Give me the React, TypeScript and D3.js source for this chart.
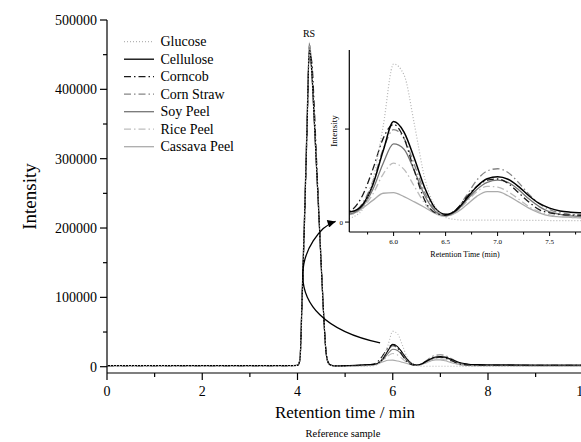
import React from 'react';
import * as d3 from 'd3';

// Retention time grid (min)
const times = [0, 1, 2, 3, 3.9, 4.0, 4.05, 4.1, 4.15, 4.2, 4.25, 4.3, 4.35, 4.4, 4.45, 4.5, 4.55, 4.6, 4.65, 4.7,
  4.8, 5.0, 5.3, 5.5, 5.6, 5.7, 5.8, 5.9, 6.0, 6.1, 6.2, 6.3, 6.4, 6.5, 6.6, 6.7, 6.8, 6.9, 7.0, 7.1,
  7.2, 7.3, 7.4, 7.5, 7.6, 7.7, 7.8, 8.0, 9.0, 10.0];

const glucose = [1500, 1500, 1400, 1300, 1500, 2000, 9000, 108000, 222000, 349000, 462000, 425000, 358000, 286000, 217000, 143000, 74000, 21000, 5500, 2300,
  900, 700, 600, 700, 1500, 4000, 13500, 31000, 51000, 47500, 31500, 14000, 5000, 1500, 800, 600, 600, 600, 600, 600,
  600, 550, 550, 500, 500, 500, 500, 500, 500, 500];
const cellulose = [1800, 1800, 1700, 1700, 1800, 2000, 9000, 106000, 218000, 344000, 458000, 424000, 357000, 286000, 216000, 142000, 73000, 20000, 5000, 2200,
  1200, 1500, 2500, 3200, 3400, 5500, 12000, 23000, 32400, 29000, 20500, 11000, 4500, 2500, 3800, 7500, 11500, 14000, 14600, 13800,
  11500, 8500, 6000, 4500, 3600, 3200, 3000, 2800, 2500, 2500];
const corncob = [1600, 1600, 1500, 1500, 1600, 1800, 8000, 100000, 212000, 338000, 452000, 440000, 380000, 300000, 222000, 146000, 76000, 22000, 6000, 2500,
  1300, 1400, 2200, 3000, 4000, 8500, 17000, 27000, 31500, 27000, 16500, 7000, 3000, 2200, 4000, 8000, 11500, 13500, 13900, 12500,
  9500, 6500, 4000, 3000, 2500, 2300, 2200, 2100, 2000, 2000];
const cornStraw = [1500, 1500, 1500, 1400, 1500, 2000, 9500, 110000, 223000, 350000, 463000, 426000, 358000, 287000, 218000, 144000, 75000, 21000, 5500, 2300,
  1100, 1200, 1800, 2500, 3000, 6000, 13000, 23500, 29800, 27000, 18500, 9500, 3800, 2200, 4000, 8500, 13500, 16500, 17200, 16000,
  12800, 9000, 6000, 4000, 3000, 2500, 2200, 2000, 1800, 1800];
const soyPeel = [1400, 1400, 1400, 1300, 1400, 2200, 10000, 112000, 226000, 353000, 466000, 428000, 360000, 288000, 218000, 144000, 74000, 20000, 5000, 2200,
  1000, 1100, 1700, 2300, 2800, 5000, 10500, 19000, 25200, 23500, 16500, 8500, 3500, 2000, 3500, 7000, 10500, 12800, 13500, 12800,
  10500, 7500, 5000, 3300, 2500, 2000, 1800, 1700, 1600, 1600];
const ricePeel = [1300, 1300, 1300, 1200, 1300, 2300, 10500, 114000, 228000, 356000, 468000, 430000, 362000, 290000, 220000, 145000, 75000, 21000, 5500, 2300,
  1000, 1000, 1500, 2000, 2500, 4500, 9000, 15500, 19000, 17000, 11500, 6000, 2800, 1800, 3200, 6500, 9800, 11500, 11300, 9800,
  7500, 5000, 3300, 2300, 1800, 1500, 1400, 1400, 1300, 1300];
const cassavaPeel = [1200, 1200, 1200, 1200, 1300, 2200, 10000, 111000, 225000, 352000, 465000, 427000, 359000, 287000, 218000, 144000, 74000, 20000, 5000, 2200,
  1000, 1000, 1500, 2100, 2600, 4500, 7000, 9300, 9500, 8200, 6500, 4700, 2800, 2000, 3000, 5500, 8300, 9800, 9800, 8500,
  6500, 4500, 3000, 2000, 1700, 1500, 1400, 1300, 1300, 1300];

const seriesNames = ['Glucose', 'Cellulose', 'Corncob', 'Corn Straw', 'Soy Peel', 'Rice Peel', 'Cassava Peel'];
const seriesValues = [glucose, cellulose, corncob, cornStraw, soyPeel, ricePeel, cassavaPeel];

const xTicks = [0, 2, 4, 6, 8, 10];
const xMinorTicks = [1, 3, 5, 7, 9];
const yTicks = [0, 100000, 200000, 300000, 400000, 500000];
const yMinorTicks = [50000, 150000, 250000, 350000, 450000];
const insetXTicks = [6.0, 6.5, 7.0, 7.5];
const insetXMinorTicks = [5.75, 6.25, 6.75, 7.25, 7.75];
const insetYTicks = [0, 30000];

// annotation arrow (time, intensity) in main axes units: tail, ctrl1, ctrl2, tip
const arrowPoints = [[5.735, 34200], [3.3, 70000], [4.15, 196000], [4.8, 209500]];

const styles: Record<string, { color: string; dash: string; width: number }> = {
  'Glucose': { color: '#b4b4b4', dash: '1,2', width: 1.2 },
  'Cellulose': { color: '#000000', dash: '', width: 1.5 },
  'Corncob': { color: '#1a1a1a', dash: '7,3,1.5,3', width: 1.3 },
  'Corn Straw': { color: '#858585', dash: '7,3,1.5,3', width: 1.3 },
  'Soy Peel': { color: '#757575', dash: '', width: 1.3 },
  'Rice Peel': { color: '#bdbdbd', dash: '7,3,1.5,3', width: 1.3 },
  'Cassava Peel': { color: '#ababab', dash: '', width: 1.3 },
};

const FONT = '"Liberation Serif", "Times New Roman", serif';

export default function App() {
  const W = 581, H = 442;
  const x = d3.scaleLinear().domain([0, 10]).range([107, 583.25]);
  const y = d3.scaleLinear().domain([0, 500000]).range([366.7, 20]);
  const axisY = 373;

  const ix = d3.scaleLinear().domain([5.574, 7.8]).range([349.3, 580.8]);
  const iy = d3.scaleLinear().domain([-3200, 55500]).range([232, 50]);

  const mainLine = d3.line<number>().x((_, i) => x(times[i])).y((v) => y(v)).curve(d3.curveMonotoneX);
  const insetLine = d3.line<number>().x((_, i) => ix(times[i])).y((v) => iy(v)).curve(d3.curveMonotoneX);

  const ap = arrowPoints.map(([t, v]) => [x(t), y(v)]);
  const arrowD = `M${ap[0][0]},${ap[0][1]} C${ap[1][0]},${ap[1][1]} ${ap[2][0]},${ap[2][1]} ${ap[3][0]},${ap[3][1]}`;

  return (
    <svg width={W} height={H} style={{ position: 'absolute', left: 0, top: 0, background: '#fff' }} fontFamily={FONT}>
      <defs>
        <clipPath id="mainClip"><rect x={107} y={0} width={W - 107} height={axisY} /></clipPath>
        <clipPath id="insetClip"><rect x={349.3} y={50} width={W - 349.3} height={182} /></clipPath>
        <marker id="arrowHead" viewBox="0 0 10 10" refX="10" refY="5" markerWidth="10" markerHeight="8" markerUnits="userSpaceOnUse" orient="auto">
          <path d="M0,0 L10,5 L0,10 z" fill="#000" />
        </marker>
      </defs>
      <rect x={0} y={0} width={W} height={H} fill="#fff" />

      {/* main series */}
      <g clipPath="url(#mainClip)">
        {seriesNames.map((name, k) => {
          const s = styles[name];
          return <path key={name} d={mainLine(seriesValues[k]) || ''} fill="none" stroke={s.color}
            strokeWidth={1.1} strokeDasharray={s.dash || undefined} />;
        }).reverse()}
      </g>

      {/* main axes */}
      <line x1={107} x2={107} y1={20} y2={axisY} stroke="#000" strokeWidth={1.2} />
      <line x1={107} x2={W} y1={axisY} y2={axisY} stroke="#000" strokeWidth={1.2} />
      {yTicks.map((t) => (
        <g key={'yt' + t}>
          <line x1={100} x2={107} y1={y(t)} y2={y(t)} stroke="#000" strokeWidth={1.2} />
          <text x={97} y={y(t)} dy="0.35em" textAnchor="end" fontSize={14}>{t}</text>
        </g>
      ))}
      {yMinorTicks.map((t) => (
        <line key={'ym' + t} x1={103} x2={107} y1={y(t)} y2={y(t)} stroke="#000" strokeWidth={1.2} />
      ))}
      {xTicks.map((t) => (
        <g key={'xt' + t}>
          <line x1={x(t)} x2={x(t)} y1={axisY} y2={axisY + 7} stroke="#000" strokeWidth={1.2} />
          <text x={x(t)} y={396} textAnchor="middle" fontSize={14}>{t}</text>
        </g>
      ))}
      {xMinorTicks.map((t) => (
        <line key={'xm' + t} x1={x(t)} x2={x(t)} y1={axisY} y2={axisY + 4} stroke="#000" strokeWidth={1.2} />
      ))}
      <text x={345} y={418} textAnchor="middle" fontSize={17}>Retention time / min</text>
      <text x={343} y={437} textAnchor="middle" fontSize={10.5}>Reference sample</text>
      <text transform={`translate(36,196.5) rotate(-90)`} textAnchor="middle" fontSize={19}>Intensity</text>
      <text x={309} y={37} textAnchor="middle" fontSize={10}>RS</text>

      {/* legend */}
      {seriesNames.map((name, k) => {
        const s = styles[name];
        const cy = 41.7 + k * 17.5;
        return (
          <g key={'lg' + name}>
            <line x1={124} x2={154} y1={cy} y2={cy} stroke={s.color} strokeWidth={1.3} strokeDasharray={s.dash || undefined} />
            <text x={160.5} y={cy} dy="0.33em" fontSize={14}>{name}</text>
          </g>
        );
      })}

      {/* inset */}
      <g clipPath="url(#insetClip)">
        {seriesNames.map((name, k) => {
          const s = styles[name];
          return <path key={'in' + name} d={insetLine(seriesValues[k]) || ''} fill="none" stroke={s.color}
            strokeWidth={s.width} strokeDasharray={s.dash || undefined} />;
        }).reverse()}
      </g>
      <line x1={349.3} x2={349.3} y1={50} y2={232} stroke="#000" strokeWidth={1.2} />
      <line x1={349.3} x2={W} y1={232} y2={232} stroke="#000" strokeWidth={1.2} />
      {insetXTicks.map((t) => (
        <g key={'ixt' + t}>
          <line x1={ix(t)} x2={ix(t)} y1={232} y2={236} stroke="#000" strokeWidth={1} />
          <text x={ix(t)} y={244} textAnchor="middle" fontSize={7}>{t.toFixed(1)}</text>
        </g>
      ))}
      {insetXMinorTicks.map((t) => (
        <line key={'ixm' + t} x1={ix(t)} x2={ix(t)} y1={232} y2={234.5} stroke="#000" strokeWidth={1} />
      ))}
      {insetYTicks.map((t) => (
        <g key={'iyt' + t}>
          <line x1={345} x2={349.3} y1={iy(t)} y2={iy(t)} stroke="#000" strokeWidth={1} />
          {t === 0 && <text x={343} y={iy(t)} dy="0.35em" textAnchor="end" fontSize={7}>0</text>}
        </g>
      ))}
      <text x={465} y={257} textAnchor="middle" fontSize={8}>Retention Time (min)</text>
      <text transform={`translate(337,131) rotate(-90)`} textAnchor="middle" fontSize={9}>Intensity</text>

      {/* arrow */}
      <path d={arrowD} fill="none" stroke="#000" strokeWidth={1.3} markerEnd="url(#arrowHead)" />
    </svg>
  );
}
